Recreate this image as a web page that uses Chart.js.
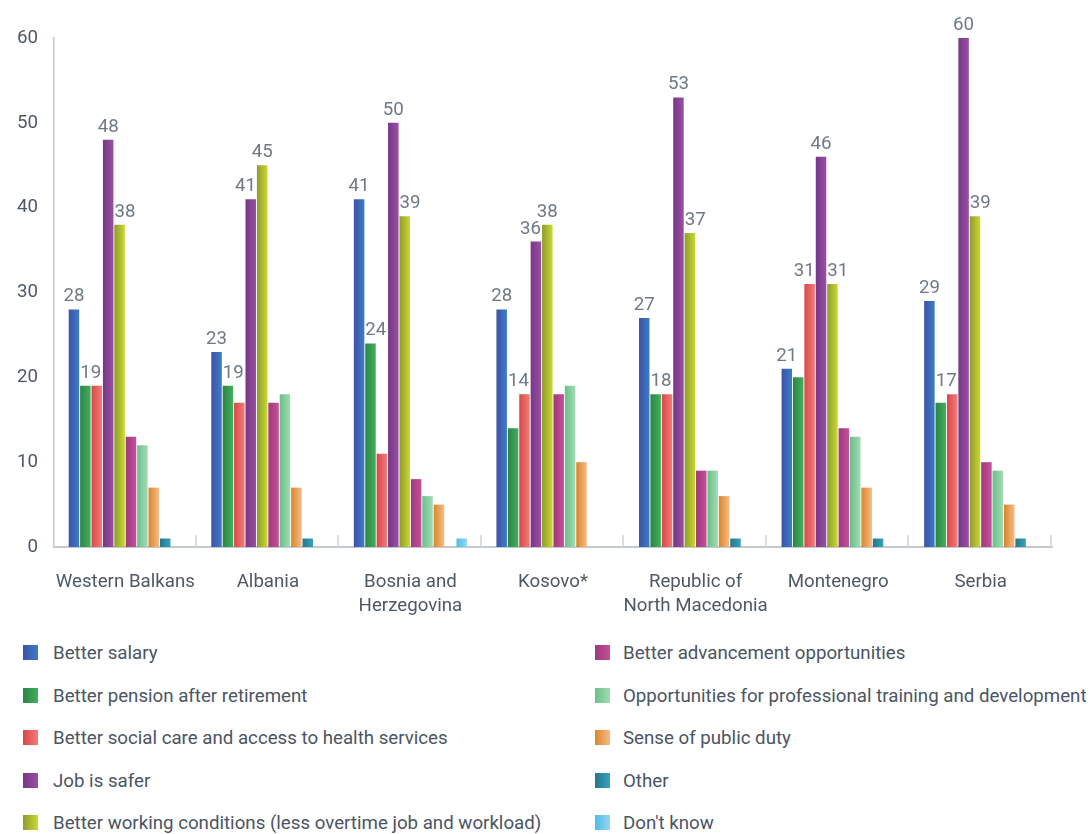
<!DOCTYPE html>
<html>
<head>
<meta charset="utf-8">
<script src="https://cdn.jsdelivr.net/npm/chart.js@4.4.1/dist/chart.umd.min.js"></script>
<style>
  body { margin: 0; background: #fff; font-family: Roboto, sans-serif; }
  #wrap { position: relative; width: 1091px; height: 834px; }
  #chart { position: absolute; left: 0; top: 0; }
  .item { position: absolute; height: 22px; line-height: 22px; font-size: 18.7px; color: #4b5563; white-space: nowrap; }
  .item .box { position: absolute; left: 0; top: 3px; width: 15px; height: 15px; }
  .item span.txt { position: absolute; top: 0; }
</style>
</head>
<body>
<div id="wrap">
  <canvas id="chart" width="1091" height="630"></canvas>
  <div id="legend"></div>
</div>
<script>
// categories and series
const countries = ['Western Balkans', 'Albania', ['Bosnia and', 'Herzegovina'], 'Kosovo*',
    ['Republic of', 'North Macedonia'], 'Montenegro', 'Serbia'];

const seriesNames = [
    'Better salary',
    'Better pension after retirement',
    'Better social care and access to health services',
    'Job is safer',
    'Better working conditions (less overtime job and workload)',
    'Better advancement opportunities',
    'Opportunities for professional training and development',
    'Sense of public duty',
    'Other',
    "Don't know"
];

const salary      = [28, 23, 41, 28, 27, 21, 29];
const pension     = [19, 19, 24, 14, 18, 20, 17];
const socialCare  = [19, 17, 11, 18, 18, 31, 18];
const jobSafer    = [48, 41, 50, 36, 53, 46, 60];
const workConds   = [38, 45, 39, 38, 37, 31, 39];
const advancement = [13, 17, 8, 18, 9, 14, 10];
const training    = [12, 18, 6, 19, 9, 13, 9];
const publicDuty  = [7, 7, 5, 10, 6, 7, 5];
const other       = [1, 1, 0, 0, 1, 1, 1];
const dontKnow    = [0, 0, 1, 0, 0, 0, 0];

const yTicks = [0, 10, 20, 30, 40, 50, 60];

// which bars carry a value label (series index -> category indexes)
const labelledPoints = {
    0: [0, 1, 2, 3, 4, 5, 6],
    1: [0, 1, 2, 3, 4, 6],
    2: [5],
    3: [0, 1, 2, 3, 4, 5, 6],
    4: [0, 1, 2, 3, 4, 5, 6]
};

const allSeries = [salary, pension, socialCare, jobSafer, workConds,
    advancement, training, publicDuty, other, dontKnow];

// left -> right gradient for each series
const gradients = [
    ['#3f52a6', '#3b7dc7'],
    ['#2d8444', '#41b05d'],
    ['#d84848', '#f27c7a'],
    ['#763786', '#9a50a2'],
    ['#8e9c30', '#cad92e'],
    ['#a1397b', '#c4509a'],
    ['#69c088', '#a3dbb4'],
    ['#d9862a', '#f7bb86'],
    ['#26768a', '#36a3be'],
    ['#4fbbe8', '#93d7f3']
];

const CAT_PCT = 0.8, BAR_PCT = 0.92;
const FONT_SIZE = 18.7;

function barFill(c) {
    const chart = c.chart;
    const xs = chart.scales.x;
    const cols = gradients[c.datasetIndex];
    if (!xs || !chart.chartArea || c.dataIndex === undefined) return cols[0];
    const cw = xs.width / countries.length;
    const slot = cw * CAT_PCT / allSeries.length;
    const x0 = xs.getPixelForValue(c.dataIndex) - cw * CAT_PCT / 2 + c.datasetIndex * slot + slot * (1 - BAR_PCT) / 2;
    const g = chart.ctx.createLinearGradient(x0, 0, x0 + slot * BAR_PCT, 0);
    g.addColorStop(0, cols[0]);
    g.addColorStop(1, cols[1]);
    return g;
}

// short marks at the category boundaries
const boundaryTicks = {
    id: 'boundaryTicks',
    afterDraw(chart) {
        const xs = chart.scales.x, ctx = chart.ctx;
        const cw = xs.width / countries.length;
        const y = chart.chartArea.bottom;
        ctx.save();
        ctx.strokeStyle = '#cfd4da';
        ctx.lineWidth = 1.5;
        for (let i = 1; i <= countries.length; i++) {
            const x = Math.round(xs.left + i * cw) - 1;
            ctx.beginPath();
            ctx.moveTo(x, y);
            ctx.lineTo(x, y - 12);
            ctx.stroke();
        }
        ctx.restore();
    }
};

// value labels that slide sideways (or up) to stay clear of taller neighbours
const valueLabels = {
    id: 'valueLabels',
    afterDatasetsDraw(chart) {
        const ctx = chart.ctx;
        ctx.save();
        ctx.font = FONT_SIZE + 'px Roboto';
        ctx.fillStyle = '#6f7986';
        ctx.textAlign = 'center';
        ctx.textBaseline = 'alphabetic';
        Object.keys(labelledPoints).forEach(k => {
            const di = +k;
            labelledPoints[k].forEach(ci => {
                const bars = allSeries.map((s, j) => {
                    const el = chart.getDatasetMeta(j).data[ci];
                    return { x0: el.x - el.width / 2, x1: el.x + el.width / 2, top: s[ci] ? el.y : Infinity, j };
                });
                const bar = bars[di];
                const text = String(allSeries[di][ci]);
                const w = ctx.measureText(text).width;
                let cx = (bar.x0 + bar.x1) / 2, base = bar.top - 8;
                for (let n = 0; n < 5; n++) {
                    const l = cx - w / 2, r = cx + w / 2;
                    const hit = bars.filter(o => o.j !== di && o.x1 > l && o.x0 < r && o.top < base + 2);
                    if (!hit.length) break;
                    const left = hit.filter(o => o.j < di), right = hit.filter(o => o.j > di);
                    if (left.length && !right.length) {
                        cx = Math.max(...left.map(o => o.x1)) + w / 2 + 1;
                    } else if (right.length && !left.length) {
                        cx = Math.min(...right.map(o => o.x0)) - w / 2 - 1;
                    } else {
                        const lower = hit.reduce((a, b) => (a.top > b.top ? a : b));
                        base = lower.top - 8;
                    }
                }
                ctx.fillText(text, cx, base);
            });
        });
        ctx.restore();
    }
};

const datasets = allSeries.map((vals, i) => ({
    label: seriesNames[i],
    data: vals,
    backgroundColor: barFill,
    borderWidth: 0,
    categoryPercentage: CAT_PCT,
    barPercentage: BAR_PCT
}));

new Chart(document.getElementById('chart').getContext('2d'), {
    type: 'bar',
    data: { labels: countries, datasets: datasets },
    options: {
        responsive: false,
        animation: false,
        layout: { padding: { top: 38, right: 39, left: 0, bottom: 0 } },
        plugins: { legend: { display: false }, tooltip: { enabled: false } },
        scales: {
            x: {
                grid: { display: false, drawTicks: false },
                border: { display: true, color: '#c3c9cf', width: 2 },
                ticks: {
                    color: '#4f5966',
                    font: { family: 'Roboto', size: FONT_SIZE, lineHeight: 1.28 },
                    padding: 23,
                    maxRotation: 0,
                    autoSkip: false
                },
                afterFit(scale) { scale.height = 83; }
            },
            y: {
                min: 0,
                max: 60,
                grid: { display: false, drawTicks: false },
                border: { display: true, color: '#c3c9cf', width: 1.5 },
                afterBuildTicks(scale) { scale.ticks = yTicks.map(v => ({ value: v })); },
                ticks: {
                    color: '#4f5966',
                    font: { family: 'Roboto', size: FONT_SIZE },
                    padding: 16
                },
                afterFit(scale) { scale.width = 54; }
            }
        }
    },
    plugins: [boundaryTicks, valueLabels]
});

// two-column legend, filled top to bottom
const legend = document.getElementById('legend');
seriesNames.forEach((name, i) => {
    const col = Math.floor(i / 5), row = i % 5;
    const item = document.createElement('div');
    item.className = 'item';
    item.style.left = (col ? 595 : 23) + 'px';
    item.style.top = (642 + row * 42.5) + 'px';
    const g = gradients[i];
    item.innerHTML = '<div class="box" style="background:linear-gradient(to right,' + g[0] + ',' + g[1] + ')"></div>' +
        '<span class="txt" style="left:' + (col ? 28 : 30) + 'px">' + name.replace(/'/g, '&#39;') + '</span>';
    legend.appendChild(item);
});
</script>
</body>
</html>
